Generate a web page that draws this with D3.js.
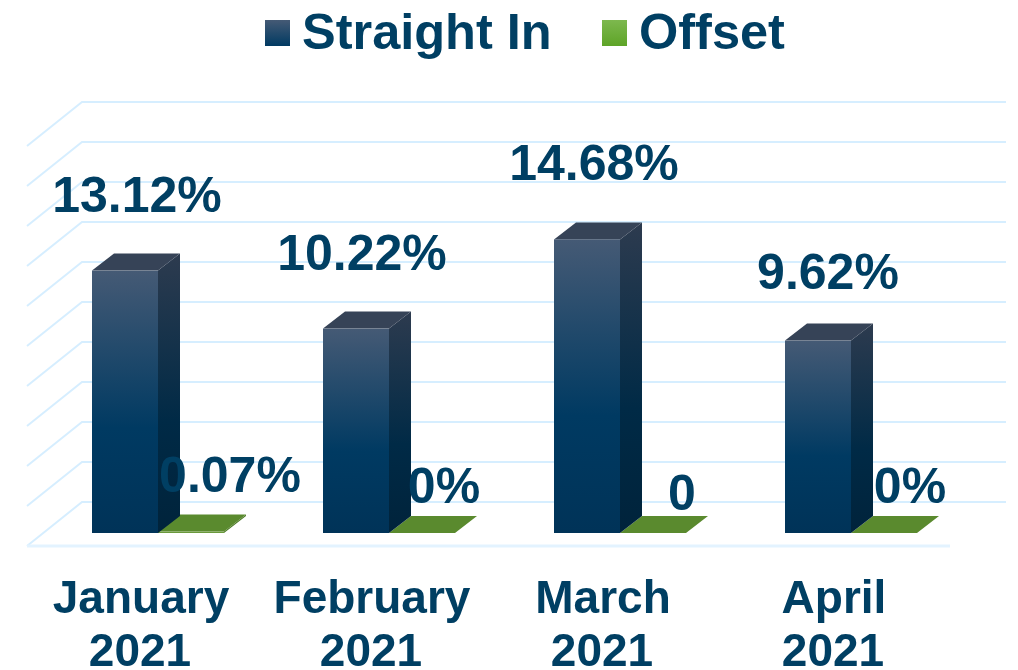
<!DOCTYPE html>
<html lang="en">
<head>
    <meta charset="UTF-8">
    <script src="https://d3js.org/d3.v7.min.js"></script>
    <title>Straight In vs Offset</title>
    <style>
        html, body {
            margin: 0;
            padding: 0;
            background: white;
        }

        svg {
            display: block;
            filter: blur(0.7px);
        }

        text {
            font-family: "Liberation Sans", Arial, sans-serif;
            font-weight: bold;
            fill: #003f63;
        }
    </style>
</head>
<body>
    <div id="chart"></div>
    <script>
        // chart values
        const months = ["January", "February", "March", "April"];
        const years = ["2021", "2021", "2021", "2021"];
        const seriesNames = ["Straight In", "Offset"];
        const straightIn = [13.12, 10.22, 14.68, 9.62];
        const offset = [0.07, 0, 0, 0];
        const straightInLabels = ["13.12%", "10.22%", "14.68%", "9.62%"];
        const offsetLabels = ["0.07%", "0%", "0", "0%"];
        const axisTicks = [0, 2, 4, 6, 8, 10, 12, 14, 16, 18, 20];

        // hand placed label nudges, the original labels were dragged around
        const straightNudge = [[1, 0], [-5, 0], [-4, 0], [-1, 7]];
        const offsetNudge = [[28, -24], [11, -13], [18, -6], [15, -13]];

        const width = 1018;
        const height = 670;

        // 3d look of the chart
        const wallDepth = { x: 55, y: 44 };
        const barDepth = { x: 22, y: 17 };
        const floorFront = { left: 27, right: 950, y: 546 };
        const barBase = 533;

        const svg = d3.select("#chart").append("svg")
            .attr("width", width)
            .attr("height", height);

        const x = d3.scaleBand()
            .domain(months)
            .range([92, 917])
            .paddingInner(99 / 231)
            .paddingOuter(0);

        const xInner = d3.scaleBand()
            .domain(seriesNames)
            .range([0, x.bandwidth()]);

        // bar height in pixels for a value
        const h = d3.scaleLinear().domain([0, 20]).range([0, 400]);

        const line = d3.line();
        const closed = (pts) => line(pts) + "Z";

        /*------------------- gradients --------------------*/
        const defs = svg.append("defs");
        const addGradient = (id, stops) => {
            const g = defs.append("linearGradient")
                .attr("id", id)
                .attr("x1", 0).attr("y1", 0)
                .attr("x2", 0).attr("y2", 1);
            stops.forEach((s) => {
                g.append("stop").attr("offset", s[0]).attr("stop-color", s[1]);
            });
        };
        addGradient("blueFront", [[0, "#455a75"], [0.6, "#003a62"], [1, "#003358"]]);
        addGradient("blueSide", [[0, "#2d3b4f"], [0.6, "#002a46"], [1, "#00233b"]]);
        addGradient("blueLegend", [[0, "#455a75"], [1, "#003a62"]]);
        addGradient("greenLegend", [[0, "#7db84e"], [1, "#5ea427"]]);

        /*------------------- gridlines --------------------*/
        const wallBase = floorFront.y - wallDepth.y;
        const grid = svg.append("g")
            .attr("fill", "none")
            .attr("stroke", "#d6eeff")
            .attr("stroke-width", 2);

        grid.selectAll("path")
            .data(axisTicks)
            .enter()
            .append("path")
            .attr("d", (d) => {
                const yy = wallBase - h(d);
                return line([
                    [floorFront.left, yy + wallDepth.y],
                    [floorFront.left + wallDepth.x, yy],
                    [floorFront.right + wallDepth.x + 1, yy]
                ]);
            });

        grid.append("path")
            .attr("d", line([[floorFront.left, floorFront.y], [floorFront.right, floorFront.y]]))
            .attr("stroke", "#e3f3ff")
            .attr("stroke-width", 3);

        /*------------------- bars --------------------*/
        const drawBar = (group, left, w, value, colors) => {
            const top = barBase - h(value);
            const right = left + w;
            const dx = barDepth.x;
            const dy = barDepth.y;
            group.append("path")
                .attr("d", closed([[right, top], [right + dx, top - dy], [right + dx, barBase - dy], [right, barBase]]))
                .attr("fill", colors.side);
            group.append("path")
                .attr("d", closed([[left, top], [left + dx, top - dy], [right + dx, top - dy], [right, top]]))
                .attr("fill", colors.top);
            group.append("rect")
                .attr("x", left)
                .attr("y", top)
                .attr("width", w)
                .attr("height", h(value))
                .attr("fill", colors.front);
        };

        months.forEach((m, i) => {
            const group = svg.append("g");
            drawBar(group, x(m) + xInner("Offset"), xInner.bandwidth(), offset[i], {
                side: "#4f7d29", top: "#5a8a2e", front: "#6a9a3c"
            });
            drawBar(group, x(m) + xInner("Straight In"), xInner.bandwidth(), straightIn[i], {
                side: "url(#blueSide)", top: "#364357", front: "url(#blueFront)"
            });
        });

        /*------------------- data labels --------------------*/
        const labels = svg.append("g")
            .attr("font-size", 50)
            .attr("text-anchor", "middle");

        months.forEach((m, i) => {
            const cx = x(m) + xInner("Straight In") + xInner.bandwidth() / 2 + barDepth.x / 2;
            labels.append("text")
                .attr("x", cx + straightNudge[i][0])
                .attr("y", barBase - h(straightIn[i]) - barDepth.y - 42 + straightNudge[i][1])
                .text(straightInLabels[i]);

            const cxOff = x(m) + xInner("Offset") + xInner.bandwidth() / 2 + barDepth.x / 2;
            labels.append("text")
                .attr("x", cxOff + offsetNudge[i][0])
                .attr("y", barBase - barDepth.y + offsetNudge[i][1])
                .text(offsetLabels[i]);
        });

        /*------------------- category labels --------------------*/
        const cats = svg.append("g")
            .attr("font-size", 46)
            .attr("text-anchor", "middle");

        months.forEach((m, i) => {
            const cx = x(m) + x.bandwidth() / 2 - 17;
            cats.append("text").attr("x", cx).attr("y", 613).text(m);
            cats.append("text").attr("x", cx - 1).attr("y", 666).text(years[i]);
        });

        /*------------------- legend --------------------*/
        const legendItems = [
            { name: seriesNames[0], swatch: 265, text: 302, fill: "url(#blueLegend)" },
            { name: seriesNames[1], swatch: 602, text: 639, fill: "url(#greenLegend)" }
        ];
        const legend = svg.append("g");
        legend.selectAll("rect")
            .data(legendItems)
            .enter()
            .append("rect")
            .attr("x", (d) => d.swatch)
            .attr("y", 20)
            .attr("width", 25)
            .attr("height", 26)
            .attr("fill", (d) => d.fill);
        legend.selectAll("text")
            .data(legendItems)
            .enter()
            .append("text")
            .attr("x", (d) => d.text)
            .attr("y", 49)
            .attr("font-size", 50.5)
            .text((d) => d.name);
    </script>
</body>
</html>
